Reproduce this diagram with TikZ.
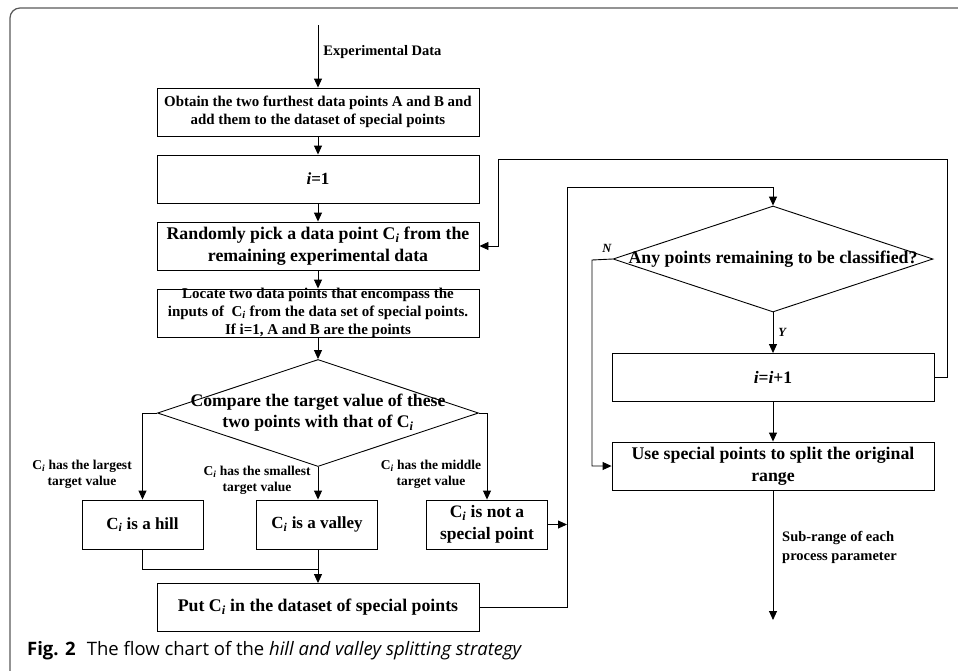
\documentclass[tikz,border=0pt]{standalone}
\usepackage{fontspec}
\setmainfont{Liberation Serif}
\newfontfamily\capfont{Open Sans}
\usetikzlibrary{shapes.geometric,arrows.meta}
\newcommand{\Ci}{C\textsubscript{\textit{i}}}
\newcommand{\fs}[2]{\fontsize{#1}{#2}\selectfont}
\tikzstyle{box} = [rectangle, draw, line width=0.9pt, minimum width=322pt, minimum height=48pt, inner sep=1pt, align=center]
\tikzstyle{smallbox} = [box, minimum width=121pt, minimum height=49pt]
\tikzstyle{dia} = [diamond, draw, line width=0.9pt, minimum width=321pt, minimum height=107pt, inner sep=0pt]
\tikzstyle{tag} = [align=center, inner sep=0pt, font=\bfseries\fs{13.5}{16}]
\tikzstyle{arr} = [line width=0.9pt, -{Triangle[width=8pt,length=9pt]}]
\tikzstyle{wire} = [line width=0.9pt]

\begin{document}
\begin{tikzpicture}[x=1pt, y=-1pt]
	\useasboundingbox (0,0) rectangle (958,670);
	\draw[line width=1.2pt, black!65, rounded corners=10pt] (10,680) -- (10,8) -- (970,8);

	\node[box, font=\bfseries\fs{14.9}{18}] (obtain) at (318,112) {Obtain the two furthest data points A and B and\\add them to the dataset of special points};
	\node[box, font=\bfseries\fs{17}{18}] (init) at (318,179) {\textit{i}=1};
	\node[box, font=\bfseries\fs{17.8}{22}] (pick) at (318,246) {Randomly pick a data point \Ci{} from the\\remaining experimental data};
	\node[box] (locate) at (318,313) {};
	\node[align=center, inner sep=0pt, font=\bfseries\fs{15}{18}] (locatetxt) at (318,313) {Locate two data points that encompass the\\inputs of~ \Ci{} from the data set of special points.\\If i=1, A and B are the points};
	\node[dia] (cmp) at (318,413) {};
	\node[align=center, inner sep=0pt, font=\bfseries\fs{17.7}{21}] (cmptxt) at (318,413) {Compare the target value of these\\two points with that of \Ci};

	\node[smallbox, font=\bfseries\fs{17}{22}] (hill) at (142.5,524.5) {\Ci{} is a hill};
	\node[smallbox, font=\bfseries\fs{17}{22}] (valley) at (317,524.5) {\Ci{} is a valley};
	\node[smallbox, font=\bfseries\fs{17.5}{22}] (notsp) at (487,524.5) {\Ci{} is not a\\special point};
	\node[box, font=\bfseries\fs{17.8}{20}] (put) at (318,607.5) {Put \Ci{} in the dataset of special points};

	\node[tag] (largest) at (82,474) {\Ci{} has the largest\\target value};
	\node[tag] (smallest) at (257,480) {\Ci{} has the smallest\\target value};
	\node[tag] (middle) at (431,474) {\Ci{} has the middle\\target value};

	\node[dia, minimum width=320pt, minimum height=106pt] (anyq) at (773,259) {};
	\node[inner sep=0pt, font=\bfseries\fs{17.8}{20}] (anyqtxt) at (773,259) {Any points remaining to be classified?};
	\node[box, font=\bfseries\fs{17.5}{18}] (inc) at (773,377.5) {\textit{i}=\textit{i}+1};
	\node[box, font=\bfseries\fs{17.8}{22}] (use) at (773,466) {Use special points to split the original\\range};

	\coordinate (start) at (318,25);
	\coordinate (join) at (318,569);
	\coordinate (busR) at (567,187);
	\coordinate (loopR) at (947,159);
	\coordinate (loopL) at (498,159);
	\coordinate (nleft) at (592,260);
	\coordinate (finish) at (773,620);

	\draw[arr] (start) -- (obtain) node[pos=0.43, right=5pt, inner sep=0pt, font=\bfseries\fs{14.5}{16}] (expdata) {Experimental Data};
	\draw[arr] (obtain) -- (init);
	\draw[arr] (init) -- (pick);
	\draw[arr] (pick) -- (locate);
	\draw[arr] (locate) -- (cmp.north);
	\draw[arr] (cmp.west) -| (hill.north);
	\draw[arr] (cmp.south) -- (valley.north -| cmp.south);
	\draw[arr] (cmp.east) -| (notsp.north);
	\draw[wire] (hill.south) |- (join);
	\draw[arr] (cmp.south |- valley.south) -- (put.north);
	\draw[arr] (notsp.east) -- (notsp.east -| busR);
	\draw[arr] (put.east) -| (busR) -| (anyq.north);
	\draw[arr] (anyq.south) -- (inc.north) node[midway, right=5pt, inner sep=0pt, font=\bfseries\itshape\fs{12.5}{14}] (yes) {Y};
	\draw[arr] (anyq.west) -- (nleft) |- (use.west);
	\node[inner sep=0pt, font=\bfseries\itshape\fs{12.5}{14}] (no) at (607,248) {N};
	\draw[arr] (inc.east) -| (loopR) -- (loopL) |- (pick.east);
	\draw[arr] (inc) -- (use);
	\draw[arr] (use) -- (finish);
	\node[tag, font=\bfseries\fs{14.5}{19}, align=left, anchor=west] (subrange) at (782,547) {Sub-range of each\\process parameter};

	\node[anchor=west, inner sep=0pt, font=\capfont\fs{18.5}{20}] (caption) at (27,651) {\textbf{Fig. 2}\hspace{0.6em}The flow chart of the \textit{hill and valley splitting strategy}};
\end{tikzpicture}
\end{document}
